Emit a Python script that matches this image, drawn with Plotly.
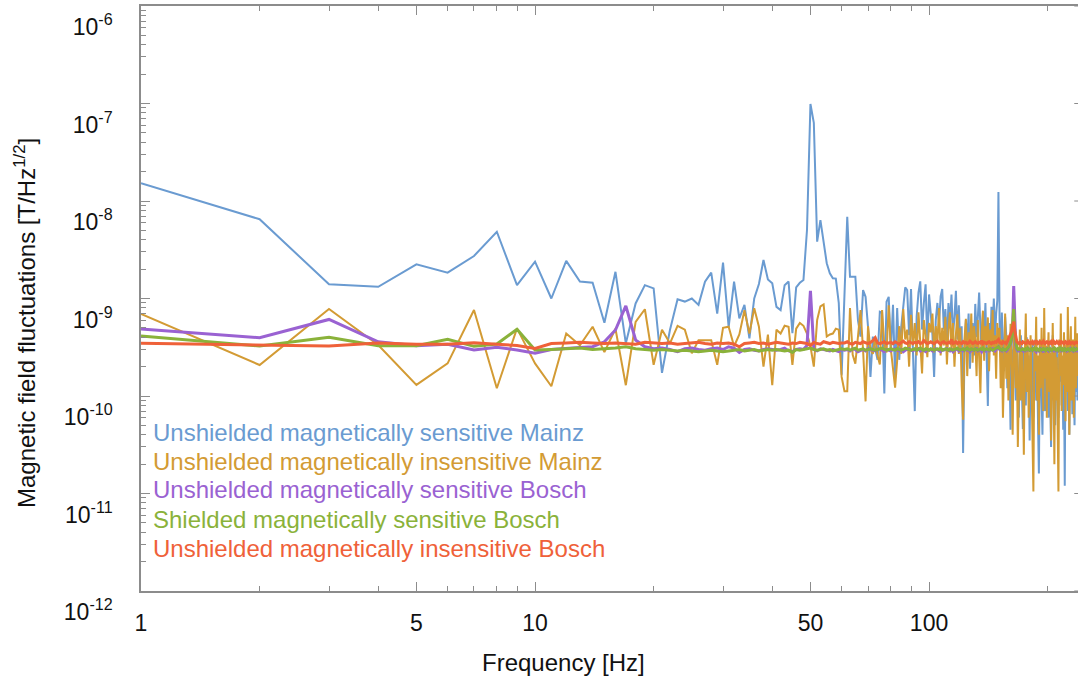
import plotly.graph_objects as go

# Amplitude spectral densities, 1 Hz bins from 1 Hz to 239 Hz.
# All series are given in pT/Hz^1/2 and converted to T/Hz^1/2 for plotting.
PT = 1e-12

freq_hz = list(range(1, 240))

mainz_sensitive = [
    15200, 6500, 1400, 1320, 2240, 1840, 2730, 4840, 1370, 2390,
    1000, 2430, 1490, 1450, 565, 1880, 347, 890, 1370, 1270,
    173, 475, 980, 930, 1000, 860, 1490, 1840, 700, 2330,
    510, 1490, 625, 860, 390, 1000, 1410, 2480, 1570, 1430,
    820, 760, 1370, 1490, 440, 1300, 1450, 1550, 5040, 98900,
    63500, 3830, 6380, 3980, 2300, 1810, 1610, 1600, 900, 165,
    900, 6900, 1670, 1680, 1670, 600, 406, 1220, 1040, 513,
    157, 406, 296, 235, 732, 715, 106, 927, 1040, 280,
    860, 152, 800, 235, 513, 800, 1300, 1220, 420, 1250,
    300, 70, 650, 1150, 1500, 480, 900, 1400, 350, 1100,
    700, 420, 157, 600, 900, 560, 1050, 1250, 480, 780,
    330, 900, 560, 1100, 420, 640, 1200, 380, 850, 300,
    520, 26, 280, 600, 350, 700, 190, 450, 560, 260,
    880, 400, 650, 1150, 500, 300, 720, 420, 900, 330,
    79, 560, 300, 820, 480, 1000, 380, 700, 950, 12400,
    600, 250, 720, 330, 180, 650, 420, 120, 380, 200,
    45, 300, 150, 520, 240, 90, 380, 160, 60, 260,
    420, 120, 46, 310, 180, 80, 400, 140, 260, 35,
    220, 110, 340, 60, 170, 380, 90, 250, 55, 16,
    200, 320, 100, 40, 260, 150, 70, 300, 120, 210,
    60, 350, 130, 30, 180, 420, 90, 240, 50, 150,
    300, 110, 60, 270, 140, 380, 80, 200, 45, 160,
    12, 280, 110, 330, 70, 190, 40, 250, 120, 300,
    65, 200, 140, 50, 260, 110, 320, 90, 180,
]

mainz_insensitive = [
    693, 208, 780, 333, 130, 216, 762, 120, 494, 216,
    126, 437, 331, 513, 282, 490, 129, 575, 776, 209,
    479, 347, 525, 479, 275, 372, 372, 372, 209, 501,
    513, 324, 427, 759, 437, 794, 513, 200, 427, 129,
    479, 437, 525, 513, 209, 490, 562, 525, 437, 324,
    200, 603, 832, 871, 407, 427, 437, 490, 479, 157,
    112, 112, 800, 265, 215, 406, 760, 300, 88, 520,
    300, 270, 406, 260, 210, 760, 330, 280, 850, 300,
    180, 122, 230, 520, 270, 780, 380, 480, 200, 680,
    330, 560, 260, 720, 350, 170, 600, 420, 250, 560,
    450, 700, 280, 520, 350, 800, 260, 500, 330, 650,
    210, 480, 720, 300, 560, 200, 430, 690, 270, 500,
    130, 57, 380, 620, 160, 450, 300, 700, 220, 520,
    380, 160, 600, 280, 107, 450, 750, 230, 520, 340,
    640, 180, 480, 300, 760, 260, 420, 150, 560, 320,
    500, 120, 380, 60, 260, 700, 150, 420, 90, 300,
    550, 180, 40, 350, 620, 120, 280, 30, 200, 480,
    90, 320, 150, 25, 260, 700, 110, 380, 60, 230,
    420, 140, 55, 10.5, 300, 180, 650, 90, 260, 40,
    380, 120, 500, 200, 70, 800, 150, 330, 60, 240,
    450, 110, 280, 35, 180, 560, 140, 20, 320, 90,
    250, 45, 10.5, 380, 160, 700, 70, 260, 130, 450,
    200, 55, 340, 110, 820, 180, 40, 300, 520, 90,
    240, 380, 60, 200, 650, 120, 280, 440, 160,
]

bosch_sensitive = [
    486, 396, 610, 360, 328, 339, 296, 316, 296, 274,
    300, 310, 315, 320, 360, 475, 840, 375, 320, 305,
    310, 300, 285, 305, 310, 300, 295, 305, 310, 300,
    320, 310, 280, 300, 305, 295, 290, 300, 305, 300,
    295, 300, 310, 290, 285, 300, 305, 300, 330, 1200,
    300, 290, 305, 300, 295, 290, 300, 290, 285, 300,
    295, 300, 290, 305, 300, 285, 295, 300, 290, 305,
    300, 295, 290, 300, 305, 295, 285, 300, 295, 290,
    300, 305, 295, 290, 300, 285, 295, 300, 305, 295,
    290, 300, 295, 305, 290, 300, 295, 285, 300, 295,
    300, 290, 295, 305, 300, 290, 285, 300, 295, 300,
    305, 295, 290, 300, 285, 295, 300, 305, 290, 300,
    295, 290, 300, 305, 295, 300, 285, 290, 300, 295,
    300, 305, 290, 295, 300, 285, 300, 295, 290, 305,
    300, 290, 295, 300, 305, 295, 290, 300, 310, 320,
    300, 295, 290, 305, 300, 295, 290, 300, 310, 330,
    340, 380, 520, 1340, 500, 330, 300, 295, 290, 300,
    305, 295, 290, 300, 285, 295, 300, 305, 290, 300,
    295, 300, 290, 305, 300, 295, 285, 300, 295, 290,
    300, 305, 295, 290, 300, 285, 295, 300, 305, 295,
    290, 300, 295, 305, 290, 300, 295, 285, 300, 295,
    300, 290, 295, 305, 300, 290, 285, 300, 295, 300,
    305, 295, 290, 300, 285, 295, 300, 305, 290, 300,
    295, 290, 300, 305, 295, 300, 285, 290, 300,
]

shielded_sensitive = [
    412, 326, 400, 328, 328, 381, 323, 341, 483, 296,
    300, 305, 310, 300, 305, 310, 320, 305, 300, 295,
    300, 295, 290, 295, 290, 285, 290, 295, 290, 285,
    290, 295, 300, 290, 295, 300, 290, 295, 300, 295,
    300, 295, 290, 295, 280, 300, 295, 300, 305, 310,
    300, 295, 300, 305, 295, 300, 290, 295, 300, 305,
    300, 305, 295, 300, 310, 295, 300, 305, 295, 300,
    305, 300, 295, 300, 305, 310, 300, 295, 300, 305,
    300, 295, 305, 300, 295, 300, 310, 305, 300, 295,
    300, 305, 295, 300, 310, 300, 295, 305, 300, 295,
    305, 300, 295, 300, 305, 300, 310, 295, 300, 305,
    300, 295, 305, 300, 295, 300, 305, 310, 300, 295,
    300, 305, 295, 300, 310, 300, 295, 305, 300, 295,
    305, 300, 295, 300, 305, 300, 310, 295, 300, 305,
    300, 295, 305, 300, 295, 300, 305, 310, 315, 320,
    305, 300, 295, 305, 300, 295, 300, 305, 315, 330,
    350, 400, 520, 780, 440, 340, 310, 300, 305, 300,
    295, 300, 305, 300, 295, 305, 300, 310, 300, 295,
    300, 305, 295, 300, 310, 300, 295, 305, 300, 295,
    305, 300, 295, 300, 305, 300, 310, 295, 300, 305,
    300, 295, 305, 300, 295, 300, 305, 310, 300, 295,
    300, 305, 295, 300, 310, 300, 295, 305, 300, 295,
    305, 300, 295, 300, 305, 300, 310, 295, 300, 305,
    300, 295, 305, 300, 295, 300, 305, 300, 295,
]

bosch_insensitive = [
    347, 333, 326, 350, 339, 339, 352, 339, 330, 308,
    345, 350, 355, 350, 345, 350, 345, 340, 355, 350,
    345, 350, 340, 345, 350, 355, 345, 340, 350, 345,
    350, 340, 320, 345, 350, 355, 345, 350, 340, 345,
    355, 350, 345, 340, 350, 345, 355, 350, 345, 330,
    355, 345, 340, 360, 350, 345, 355, 350, 345, 350,
    350, 360, 345, 340, 355, 350, 345, 360, 350, 345,
    355, 370, 395, 350, 345, 355, 360, 345, 350, 355,
    345, 360, 350, 340, 355, 365, 350, 345, 360, 350,
    345, 355, 350, 360, 345, 350, 370, 355, 345, 350,
    360, 350, 345, 355, 365, 350, 340, 355, 360, 350,
    345, 355, 350, 380, 345, 350, 360, 345, 355, 350,
    345, 360, 350, 355, 345, 350, 365, 355, 345, 350,
    360, 350, 345, 355, 350, 370, 345, 355, 350, 345,
    355, 360, 350, 345, 355, 350, 360, 355, 370, 380,
    355, 350, 345, 360, 350, 355, 345, 360, 380, 400,
    420, 460, 520, 580, 470, 400, 360, 350, 345, 355,
    350, 345, 360, 355, 350, 345, 355, 365, 350, 345,
    355, 350, 360, 345, 355, 350, 370, 355, 345, 350,
    360, 350, 345, 355, 365, 350, 345, 355, 360, 350,
    345, 355, 350, 360, 345, 350, 365, 355, 345, 350,
    360, 350, 345, 355, 350, 370, 345, 355, 350, 345,
    355, 360, 350, 345, 355, 350, 360, 355, 345, 350,
    355, 350, 345, 360, 350, 355, 345, 360, 350,
]

series = [
    ("Unshielded magnetically sensitive Mainz", mainz_sensitive, "#6a9bd1", 2.0),
    ("Unshielded magnetically insensitive Mainz", mainz_insensitive, "#d39b34", 2.0),
    ("Unshielded magnetically sensitive Bosch", bosch_sensitive, "#9a62d2", 3.0),
    ("Shielded magnetically sensitive Bosch", shielded_sensitive, "#8ab23a", 3.0),
    ("Unshielded magnetically insensitive Bosch", bosch_insensitive, "#ef6139", 3.0),
]

x_ticks = [1, 5, 10, 50, 100]
x_minor = [2, 3, 4, 6, 7, 8, 9, 20, 30, 40, 60, 70, 80, 90, 200]
y_exponents = [-12, -11, -10, -9, -8, -7, -6]

FONT = "Liberation Sans, Arial, sans-serif"
FRAME = "#8c8c8c"

fig = go.Figure()
for name, values, color, width in series:
    fig.add_trace(go.Scatter(
        x=freq_hz,
        y=[v * PT for v in values],
        mode="lines",
        name=name,
        line=dict(color=color, width=width),
        showlegend=False,
    ))

y_major = [10.0 ** e for e in y_exponents]
y_minor = [m * 10.0 ** e for e in y_exponents[:-1] for m in range(2, 10)]

fig.update_xaxes(
    type="log",
    range=[0, 2.378],
    tickmode="array",
    tickvals=x_ticks,
    ticktext=[str(t) for t in x_ticks],
    ticks="inside",
    ticklen=9,
    tickwidth=1,
    tickcolor=FRAME,
    minor=dict(tickvals=x_minor, ticks="inside", ticklen=5, tickwidth=1, tickcolor=FRAME, showgrid=False),
    showline=True,
    linecolor=FRAME,
    linewidth=1.5,
    mirror="allticks",
    showgrid=False,
    zeroline=False,
    tickfont=dict(family=FONT, size=23, color="#111111"),
    ticklabelstandoff=11,
)

# The right edge of the frame runs just past the visible area, so only
# short stubs of its decade ticks show; the left axis carries the full set.
fig.update_yaxes(
    type="log",
    range=[-12, -6],
    tickmode="array",
    tickvals=y_major,
    ticktext=[f"10<sup>{e}</sup>" for e in y_exponents],
    ticks="inside",
    ticklen=9,
    tickwidth=1,
    tickcolor=FRAME,
    minor=dict(tickvals=y_minor, ticks="inside", ticklen=5, tickwidth=1, tickcolor=FRAME, showgrid=False),
    showline=True,
    linecolor=FRAME,
    linewidth=1.5,
    mirror=False,
    showgrid=False,
    zeroline=False,
    tickfont=dict(family=FONT, size=23, color="#111111"),
    ticklabelshift=21,
    ticklabelstandoff=22,
)

for v in y_major:
    fig.add_shape(
        type="line", xref="paper", yref="y",
        x0=0.996, x1=1.0, y0=v, y1=v,
        line=dict(color=FRAME, width=1),
    )

# Colour-coded series labels in the lower left of the frame
PLOT_TOP, PLOT_BOTTOM, PLOT_LEFT, PLOT_RIGHT = 6, 591, 141, 1078
plot_h = PLOT_BOTTOM - PLOT_TOP
plot_w = PLOT_RIGHT - PLOT_LEFT
label_rows = [432, 461, 490, 519, 548]
for (name, _, color, _), row in zip(series, label_rows):
    fig.add_annotation(
        text=name, xref="paper", yref="paper",
        x=(151 - PLOT_LEFT) / plot_w, y=(PLOT_BOTTOM - row) / plot_h,
        xanchor="left", yanchor="middle", showarrow=False,
        font=dict(family=FONT, size=24, color=color),
    )

# Axis titles
fig.add_annotation(
    text="Frequency [Hz]", xref="paper", yref="paper",
    x=(563 - PLOT_LEFT) / plot_w, y=(PLOT_BOTTOM - 662) / plot_h,
    xanchor="center", yanchor="middle", showarrow=False,
    font=dict(family=FONT, size=24, color="#111111"),
)
fig.add_annotation(
    text="Magnetic field fluctuations [T/Hz<sup>1/2</sup>]", xref="paper", yref="paper",
    x=(25 - PLOT_LEFT) / plot_w, y=(PLOT_BOTTOM - 323) / plot_h,
    xanchor="center", yanchor="middle", textangle=-90, showarrow=False,
    font=dict(family=FONT, size=24, color="#111111"),
)

fig.update_layout(
    width=1079,
    height=678,
    margin=dict(l=PLOT_LEFT, r=1079 - PLOT_RIGHT, t=PLOT_TOP, b=678 - PLOT_BOTTOM),
    paper_bgcolor="white",
    plot_bgcolor="white",
    showlegend=False,
)

fig.write_html("out.html")
